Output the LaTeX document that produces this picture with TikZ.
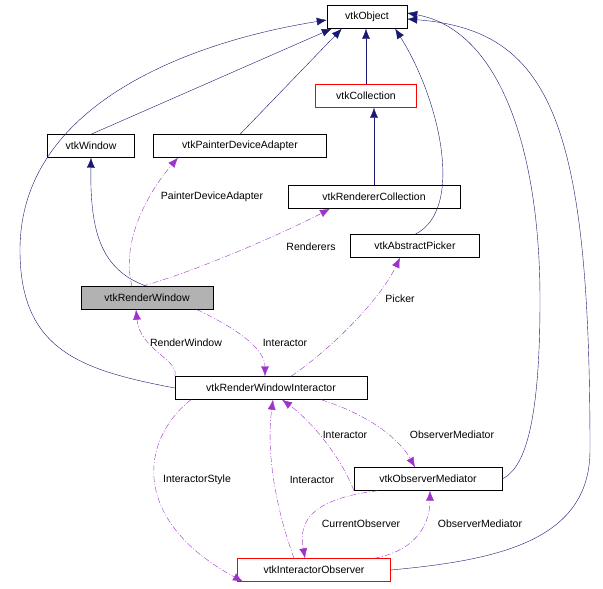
\documentclass[tikz,border=0pt]{standalone}
\usepackage{fontspec}
\setmainfont{Liberation Sans}
\usetikzlibrary{positioning, arrows.meta}
\definecolor{inhblue}{rgb}{0.1,0.1,0.45}
\definecolor{usepurple}{rgb}{0.62,0.2,0.8}

\begin{document}
\begin{tikzpicture}[x=1pt,y=-1pt,font=\fontsize{10.5}{12}\selectfont,
  cls/.style={draw, rectangle, minimum height=23pt, inner xsep=4pt},
  inh/.style={draw=inhblue, -{Latex[length=10pt,width=8pt]}, fill=none},
  uses/.style={draw=usepurple, dash pattern=on 6pt off 2pt on 1pt off 2pt, -{Latex[length=10pt,width=8pt]}},
  lbl/.style={inner sep=1pt}]
\useasboundingbox (0,0) rectangle (603,589);

%Classes
\node (obj) at (367,17) [cls, minimum width=80pt] {vtkObject};
\node (coll) at (366,96) [cls, draw=red, minimum width=101pt] {vtkCollection};
\node (win) at (91,146) [cls, minimum width=87pt] {vtkWindow};
\node (pda) at (240,146) [cls, minimum width=173pt] {vtkPainterDeviceAdapter};
\node (rcoll) at (374,197) [cls, minimum width=172pt] {vtkRendererCollection};
\node (pick) at (415,246) [cls, minimum width=129pt] {vtkAbstractPicker};
\node (rwin) at (147,298) [cls, fill=black!30, minimum width=132pt] {vtkRenderWindow};
\node (rwi) at (271,388) [cls, minimum width=192pt] {vtkRenderWindowInteractor};
\node (om) at (428,479) [cls, minimum width=148pt] {vtkObserverMediator};
\node (io) at (314,570) [cls, draw=red, minimum width=153pt] {vtkInteractorObserver};

%Inheritance
\draw[inh] (win.north) -- ([xshift=5pt]obj.south west);
\draw[inh] (pda.north) -- ([xshift=15pt]obj.south west);
\draw[inh] (coll.north) -- (coll.north |- obj.south);
\draw[inh] (rcoll.north) -- (rcoll.north |- coll.south);
\draw[inh] (pick.north) .. controls (465,210) and (440,100) .. ([xshift=-12pt]obj.south east);
\draw[inh] (rwi.west) .. controls (80,370) and (20,350) .. (20,250) .. controls (20,100) and (200,40) .. ([yshift=-3pt]obj.west);
\draw[inh] (om.east) .. controls (520,470) and (540,440) .. (540,300) .. controls (540,150) and (500,30) .. ([yshift=4pt]obj.east);
\draw[inh] (io.east) .. controls (500,560) and (590,540) .. (590,450) .. controls (590,120) and (550,30) .. ([yshift=-2pt]obj.east);
\draw[inh] (rwin.north) .. controls (100,270) and (90,230) .. (win.south);

%Usage
\draw[uses] ([xshift=-15pt]rwin.north) .. controls (120,240) and (150,190) .. ([xshift=-62pt]pda.south);
\draw[uses] ([xshift=-5pt]rwin.north) .. controls (200,270) and (290,230) .. ([xshift=-44pt]rcoll.south);
\draw[uses] (rwi.north west) .. controls (180,360) and (140,350) .. ([xshift=-11pt]rwin.south);
\draw[uses] ([xshift=50pt]rwin.south) .. controls (240,330) and (265,350) .. ([xshift=-6pt]rwi.north);
\draw[uses] ([xshift=20pt]rwi.north) .. controls (330,350) and (380,300) .. ([xshift=-15pt]pick.south);
\draw[uses] ([xshift=-80pt]rwi.south) .. controls (140,440) and (130,520) .. ([xshift=-71pt]io.south);
\draw[uses] ([xshift=-20pt]io.north) .. controls (280,520) and (265,460) .. ([xshift=2pt]rwi.south);
\draw[uses] ([xshift=-74pt]om.south) .. controls (340,455) and (310,420) .. ([xshift=11pt]rwi.south);
\draw[uses] ([xshift=50pt]rwi.south) .. controls (370,415) and (400,440) .. ([xshift=-13pt]om.north);
\draw[uses] ([xshift=-50pt]om.south) .. controls (300,500) and (300,530) .. ([xshift=-9pt]io.north);
\draw[uses] ([xshift=60pt]io.north) .. controls (420,550) and (430,520) .. ([xshift=2pt]om.south);

%Labels
\node (l1) at (212,197) [lbl] {PainterDeviceAdapter};
\node (l2) at (311,247) [lbl] {Renderers};
\node (l3) at (400,299) [lbl] {Picker};
\node (l4) at (186,343) [lbl] {RenderWindow};
\node (l5) at (285,343) [lbl] {Interactor};
\node (l6) at (345,435) [lbl] {Interactor};
\node (l7) at (452,435) [lbl] {ObserverMediator};
\node (l8) at (197,480) [lbl] {InteractorStyle};
\node (l9) at (312,480) [lbl] {Interactor};
\node (l10) at (361,524) [lbl] {CurrentObserver};
\node (l11) at (480,524) [lbl] {ObserverMediator};
\end{tikzpicture}
\end{document}
